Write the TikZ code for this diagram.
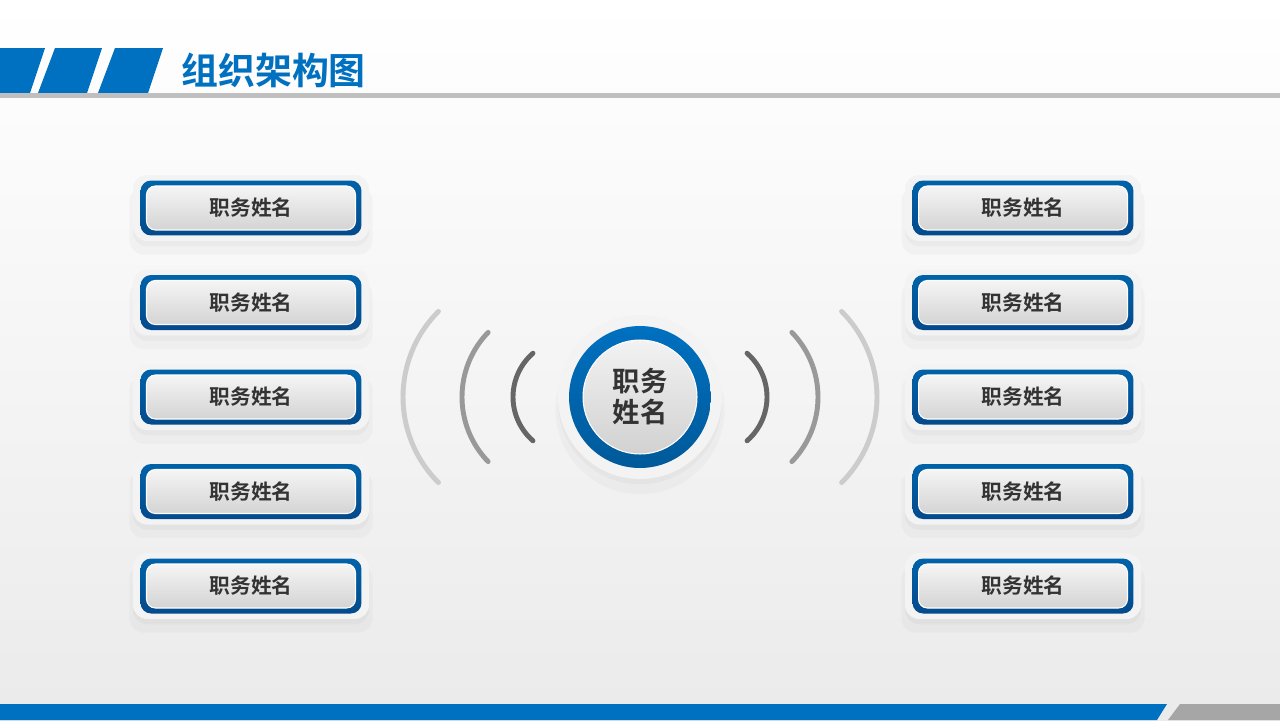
\documentclass[tikz,border=0pt]{standalone}
\usepackage{fontspec}
\newfontfamily\cjk{Noto Sans CJK SC}[BoldFont={Noto Sans CJK SC Bold}]
\usetikzlibrary{shadows}
\definecolor{mainblue}{HTML}{0070C0}
\definecolor{darkblue}{HTML}{034A8C}
\definecolor{framegray}{HTML}{F3F3F3}
\definecolor{textgray}{HTML}{333333}
\tikzset{
  softshadow/.style={drop shadow={shadow xshift=0pt,shadow yshift=-3pt,opacity=.06},
    drop shadow={shadow xshift=0pt,shadow yshift=-7pt,shadow scale=1.03,opacity=.05}},
  outerbox/.style={rounded corners=8pt,fill=framegray,minimum width=4.72cm,minimum height=1.32cm,softshadow},
  bluebox/.style={rounded corners=6pt,top color=mainblue!88!black,bottom color=darkblue,minimum width=4.42cm,minimum height=1.1cm},
  innerbox/.style={rounded corners=5pt,draw=white,line width=.6pt,top color=white!96!black,bottom color=white!83!black,
    minimum width=4.18cm,minimum height=.88cm,font=\cjk\bfseries\fontsize{11.8}{14}\selectfont,text=textgray},
  wave/.style={line width=2.8pt,line cap=round}
}
\begin{document}
\begin{tikzpicture}[x=0.02cm,y=-0.02cm]
\useasboundingbox (0,0) rectangle (1280,720);
\shade[top color=white,bottom color=white!92!black] (0,0) rectangle (1280,720);
% header
\fill[mainblue] (0,48) -- (45,48) -- (30,93) -- (0,93) -- cycle;
\fill[mainblue] (55,48) -- (102,48) -- (87,93) -- (38,93) -- cycle;
\fill[mainblue] (115,48) -- (163,48) -- (148,93) -- (98,93) -- cycle;
\fill[white!75!black] (0,93) rectangle (1280,98);
\node[anchor=west,text=mainblue,font=\cjk\bfseries\fontsize{21}{24}\selectfont,inner sep=0pt] (title) at (181,70) {组织架构图};
% footer
\fill[mainblue] (0,704) -- (1167,704) -- (1157,720) -- (0,720) -- cycle;
\fill[white!65!black] (1180,704) -- (1280,704) -- (1280,720) -- (1168,720) -- cycle;
% boxes
\foreach \i/\y in {1/208,2/302.5,3/397,4/491.5,5/586}{
  \node[outerbox] (lo\i) at (251,\y) {};
  \node[bluebox] (lb\i) at (251,\y) {};
  \node[innerbox] (l\i) at (251,\y) {职务姓名};
  \node[outerbox] (ro\i) at (1023,\y) {};
  \node[bluebox] (rb\i) at (1023,\y) {};
  \node[innerbox] (r\i) at (1023,\y) {职务姓名};
}
% centre
\node[circle,fill=framegray,minimum size=3.28cm,softshadow] (co) at (640,397) {};
\node[circle,top color=mainblue,bottom color=mainblue!80!black,minimum size=2.84cm] (cb) at (640,397) {};
\node[circle,draw=white,line width=.6pt,top color=white!95!black,bottom color=white!82!black,minimum size=2.28cm,
  align=center,font=\cjk\bfseries\fontsize{15.6}{17.6}\selectfont,text=textgray] (boss) at (640,397) {职务\\姓名};
% waves
\draw[wave,black!60] (571,397) ++(131:58) arc[start angle=131,end angle=229,radius=58];
\draw[wave,black!40] (555,397) ++(136:93) arc[start angle=136,end angle=224,radius=93];
\draw[wave,black!20] (524,397) ++(135:121) arc[start angle=135,end angle=225,radius=121];
\draw[wave,black!60] (709,397) ++(49:58) arc[start angle=49,end angle=-49,radius=58];
\draw[wave,black!40] (725,397) ++(44:93) arc[start angle=44,end angle=-44,radius=93];
\draw[wave,black!20] (756,397) ++(45:121) arc[start angle=45,end angle=-45,radius=121];
\end{tikzpicture}
\end{document}
